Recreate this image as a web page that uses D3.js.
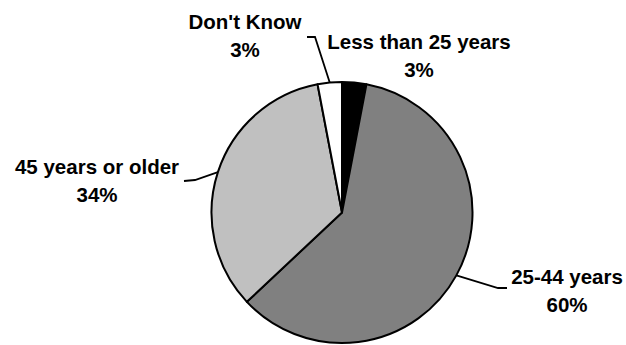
<!DOCTYPE html>
<html>
<head>
<meta charset="utf-8">
<script src="https://cdn.jsdelivr.net/npm/d3@7"></script>
<style>
  html, body { margin: 0; padding: 0; background: #fff; }
  svg { display: block; }
  text { font-family: "Liberation Sans", Arial, sans-serif; font-weight: bold; font-size: 20.5px; fill: #000; }
</style>
</head>
<body>
<svg id="chart" width="626" height="345"></svg>
<script>
// Age groups, clockwise from 12 o'clock
const categories = ["Less than 25 years", "25-44 years", "45 years or older", "Don't Know"];
const percents   = [3, 60, 34, 3];
const fills      = ["#000000", "#808080", "#c0c0c0", "#ffffff"];

// Label placement (centre x, first baseline) and leader elbow points
const labelLayout = {
  "Less than 25 years": { x: 419, y: 49, leader: null },
  "25-44 years":        { x: 567, y: 284, leader: [[498, 288], [507, 288]] },
  "45 years or older":  { x: 97,  y: 174, leader: [[195, 180], [184, 181]] },
  "Don't Know":         { x: 245, y: 29,  leader: [[315, 37], [307, 37]] }
};

const svg = d3.select("#chart");
const cx = 342, cy = 212.5, radius = 130.5;
const lineGap = 28;

const data = categories.map((c, i) => ({ name: c, value: percents[i], fill: fills[i] }));

const pie = d3.pie().value(d => d.value).sort(null);
const arcs = pie(data);
const arcGen = d3.arc().innerRadius(0).outerRadius(radius);

const g = svg.append("g").attr("transform", `translate(${cx},${cy})`);

g.selectAll("path.slice")
  .data(arcs)
  .join("path")
  .attr("class", "slice")
  .attr("d", arcGen)
  .attr("fill", d => d.data.fill)
  .attr("stroke", "#000")
  .attr("stroke-width", 2)
  .attr("stroke-linejoin", "round");

// Leader lines from the slice's outer midpoint to the label
arcs.forEach(a => {
  const lay = labelLayout[a.data.name];
  if (!lay.leader) return;
  const mid = (a.startAngle + a.endAngle) / 2;
  const start = [cx + radius * Math.sin(mid), cy - radius * Math.cos(mid)];
  const pts = [start].concat(lay.leader);
  svg.append("path")
    .attr("d", d3.line()(pts))
    .attr("fill", "none")
    .attr("stroke", "#000")
    .attr("stroke-width", 1.8);
});

// Two-line labels: category name and percentage
arcs.forEach(a => {
  const lay = labelLayout[a.data.name];
  const t = svg.append("text").attr("text-anchor", "middle");
  t.append("tspan").attr("x", lay.x).attr("y", lay.y).text(a.data.name);
  t.append("tspan").attr("x", lay.x).attr("y", lay.y + lineGap).text(a.data.value + "%");
});
</script>
</body>
</html>
